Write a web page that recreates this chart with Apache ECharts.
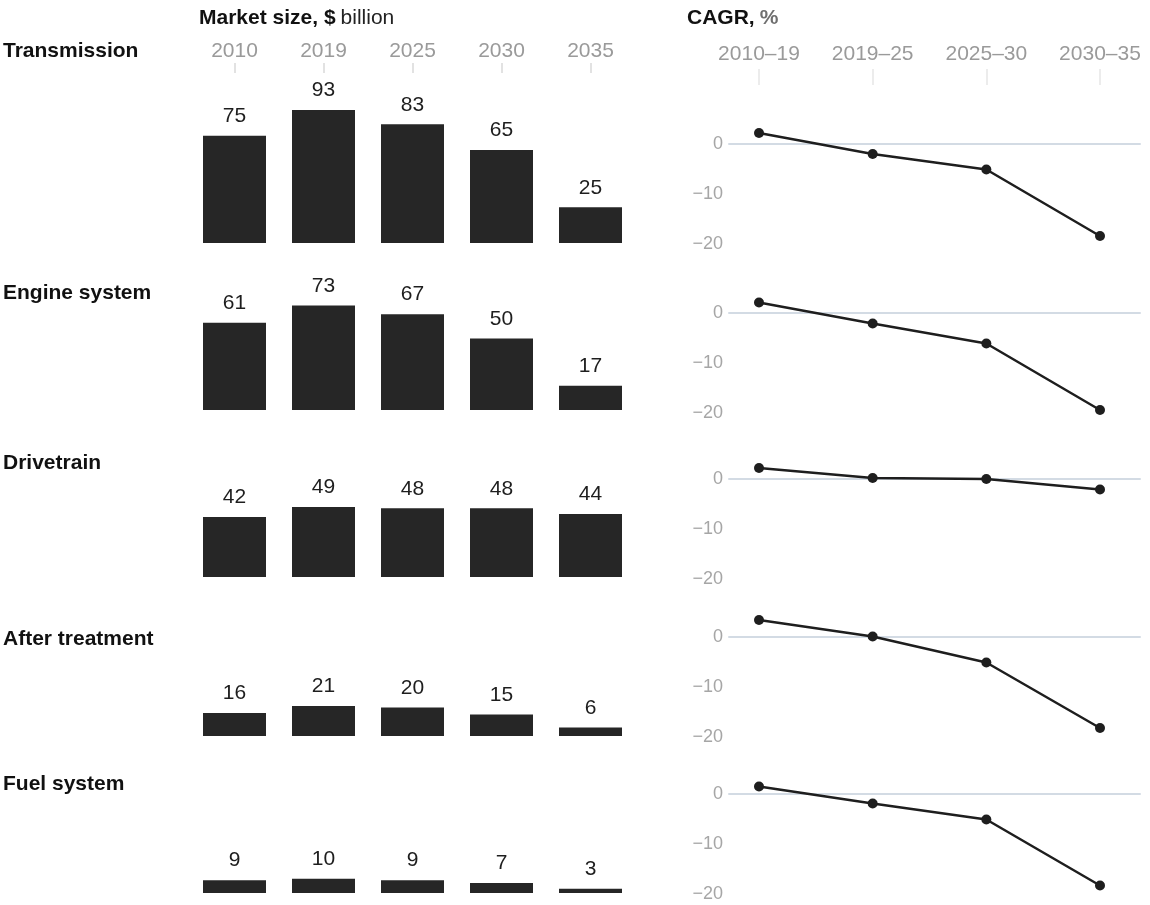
<!DOCTYPE html>
<html>
<head>
<meta charset="utf-8">
<title>Powertrain component market</title>
<script src="https://cdn.jsdelivr.net/npm/echarts@6/dist/echarts.min.js"></script>
<style>
  html, body { margin: 0; padding: 0; background: #ffffff; }
  #chart { width: 1150px; height: 905px; }
</style>
</head>
<body>
<div id="chart"></div>
<script>
// Market size ($ billion) by year and compound annual growth (%) by period
const years = ['2010', '2019', '2025', '2030', '2035'];
const periods = ['2010–19', '2019–25', '2025–30', '2030–35'];
const segments = ['Transmission', 'Engine system', 'Drivetrain', 'After treatment', 'Fuel system'];

const transmissionSize = [75, 93, 83, 65, 25];
const engineSize = [61, 73, 67, 50, 17];
const drivetrainSize = [42, 49, 48, 48, 44];
const afterTreatmentSize = [16, 21, 20, 15, 6];
const fuelSize = [9, 10, 9, 7, 3];

const transmissionCagr = [2.2, -2.0, -5.1, -18.4];
const engineCagr = [2.1, -2.1, -6.1, -19.4];
const drivetrainCagr = [2.2, 0.2, 0.0, -2.1];
const afterTreatmentCagr = [3.4, 0.1, -5.1, -18.2];
const fuelCagr = [1.5, -1.9, -5.1, -18.3];

const sizeRows = [transmissionSize, engineSize, drivetrainSize, afterTreatmentSize, fuelSize];
const cagrRows = [transmissionCagr, engineCagr, drivetrainCagr, afterTreatmentCagr, fuelCagr];

// Layout (pixels)
const FONT = '"Liberation Sans", Arial, sans-serif';
const barBottoms = [243, 410, 577, 736, 893];
const barHeight = 143;          // height of 0..100 on the size axis
const zeroLines = [144, 313, 479, 637, 794];
const lineHeight = 150;         // height of -20..10 on the growth axis
const rowLabelCenters = [50, 292, 462, 638, 783];
const yearAxisY = 73;
const periodAxisY = 85;

const chart = echarts.init(document.getElementById('chart'), null, { renderer: 'canvas' });

const grid = [], xAxis = [], yAxis = [], series = [], title = [];

title.push({
  left: 199, top: 8, padding: 0,
  text: '{b|Market size, $} {n|billion}',
  textStyle: {
    rich: {
      b: { fontFamily: FONT, fontSize: 21, fontWeight: 'bold', color: '#111' },
      n: { fontFamily: FONT, fontSize: 21, fontWeight: 'normal', color: '#222' }
    }
  }
});
title.push({
  left: 687, top: 8, padding: 0,
  text: '{b|CAGR,} {g|%}',
  textStyle: {
    rich: {
      b: { fontFamily: FONT, fontSize: 21, fontWeight: 'bold', color: '#111' },
      g: { fontFamily: FONT, fontSize: 21, fontWeight: 'bold', color: '#6f6f6f' }
    }
  }
});

segments.forEach(function (name, i) {
  title.push({
    left: 3, top: rowLabelCenters[i] - 9, padding: 0,
    text: name,
    textStyle: { fontFamily: FONT, fontSize: 21, fontWeight: 'bold', color: '#111' }
  });

  const isFirst = i === 0;

  // --- bars ---
  const barTop = barBottoms[i] - barHeight;
  const gBar = grid.length;
  grid.push({ left: 190, width: 445, top: barTop, height: barHeight });
  xAxis.push({
    type: 'category', gridIndex: gBar, data: years,
    position: isFirst ? 'top' : 'bottom',
    offset: isFirst ? barTop - yearAxisY : 0,
    axisLine: { show: false, onZero: false },
    axisTick: { show: isFirst, alignWithLabel: true, length: 10, lineStyle: { color: '#e2e2e2', width: 2 } },
    axisLabel: { show: isFirst, color: '#9a9a9a', fontFamily: FONT, fontSize: 21, margin: 11 }
  });
  yAxis.push({ type: 'value', gridIndex: gBar, min: 0, max: 100, show: false });
  series.push({
    type: 'bar', xAxisIndex: gBar, yAxisIndex: gBar,
    data: sizeRows[i], barWidth: 63,
    itemStyle: { color: '#262626' },
    label: { show: true, position: 'top', distance: 9, color: '#1e1e1e', fontFamily: FONT, fontSize: 21 },
    silent: true
  });

  // --- growth frame: zero line and value labels ---
  const lineTop = zeroLines[i] - 50;
  const gFrame = grid.length;
  grid.push({ left: 729, width: 411, top: lineTop, height: lineHeight });
  xAxis.push({
    type: 'category', gridIndex: gFrame, data: periods,
    axisLine: { show: true, onZero: true, lineStyle: { color: '#d3dbe4', width: 2 } },
    axisTick: { show: false }, axisLabel: { show: false }
  });
  yAxis.push({
    type: 'value', gridIndex: gFrame, min: -20, max: 10, interval: 10,
    axisLine: { show: false }, axisTick: { show: false }, splitLine: { show: false },
    axisLabel: {
      color: '#a6a6a6', fontFamily: FONT, fontSize: 18, margin: 6,
      formatter: function (v) { return v > 0 ? '' : (v < 0 ? '−' + Math.abs(v) : '0'); }
    }
  });

  // --- growth line ---
  const gLine = grid.length;
  grid.push({ left: 759, width: 341, top: lineTop, height: lineHeight });
  xAxis.push({
    type: 'category', gridIndex: gLine, data: periods, boundaryGap: false,
    position: isFirst ? 'top' : 'bottom',
    offset: isFirst ? lineTop - periodAxisY : 0,
    axisLine: { show: false, onZero: false },
    axisTick: { show: isFirst, length: 16, lineStyle: { color: '#ececec', width: 2 } },
    axisLabel: { show: isFirst, color: '#9a9a9a', fontFamily: FONT, fontSize: 21, margin: 20 }
  });
  yAxis.push({ type: 'value', gridIndex: gLine, min: -20, max: 10, interval: 10, show: false });
  series.push({
    type: 'line', xAxisIndex: gLine, yAxisIndex: gLine,
    data: cagrRows[i],
    symbol: 'circle', symbolSize: 10,
    lineStyle: { color: '#1e1e1e', width: 2.5 },
    itemStyle: { color: '#1e1e1e' },
    z: 5, silent: true
  });
});

chart.setOption({
  animation: false,
  backgroundColor: '#ffffff',
  textStyle: { fontFamily: FONT },
  title: title,
  grid: grid,
  xAxis: xAxis,
  yAxis: yAxis,
  series: series
});
</script>
</body>
</html>
